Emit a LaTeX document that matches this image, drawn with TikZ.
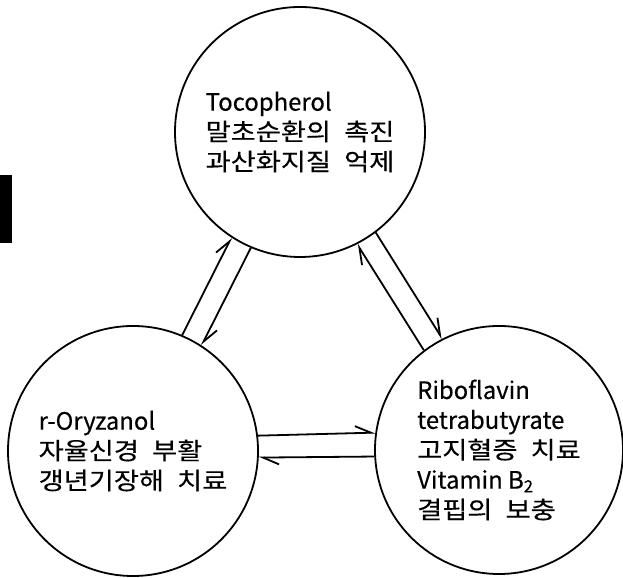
\documentclass[tikz,border=0pt]{standalone}
\usepackage{fontspec}
\setmainfont[FakeBold=0.4]{Noto Sans CJK KR}
\newfontfamily\kr[FakeStretch=1.14,FakeBold=0.4]{Noto Sans CJK KR}
\usetikzlibrary{arrows.meta}
\newcommand{\linecolor}{black}
\newcommand{\thickness}{1.8bp}
\newcommand{\gap}{\hspace{.55em}}
\tikzset{
  vit/.style={draw=\linecolor, line width=\thickness, circle, minimum size=250bp, inner sep=0pt, align=left, font=\fontsize{24}{30}\selectfont},
  link/.style={draw=\linecolor, line width=\thickness, -{Straight Barb[left,length=16bp,width=14bp]}}
}

\begin{document}
\begin{tikzpicture}[x=1bp,y=1bp]
\useasboundingbox (0,0) rectangle (623,578);
\fill (0,335) rectangle (12,403);
\node[vit] (toco) at (300,446) {Tocopherol\\{\kr 말초순환의\gap 촉진}\\{\kr 과산화지질\gap 억제}};
\node[vit] (ory) at (133,127) {r-Oryzanol\\{\kr 자율신경\gap 부활}\\{\kr 갱년기장해\gap 치료}};
\node[vit, minimum size=248bp] (ribo) at (499,128) {Riboflavin\\tetrabutyrate\\{\kr 고지혈증\gap 치료}\\Vitamin B\textsubscript{2}\\{\kr 결핍의\gap 보충}};
%toco - ory
\draw[link] (ory.67.4) -- (toco.237.4);
\draw[link] (toco.247.4) -- (ory.57.4);
%toco - ribo
\draw[link] (toco.307) -- (ribo.117);
\draw[link] (ribo.127) -- (toco.297);
%ory - ribo
\draw[link] (ory.7) -- (ribo.172);
\draw[link] (ribo.183) -- (ory.357);
\end{tikzpicture}
\end{document}
